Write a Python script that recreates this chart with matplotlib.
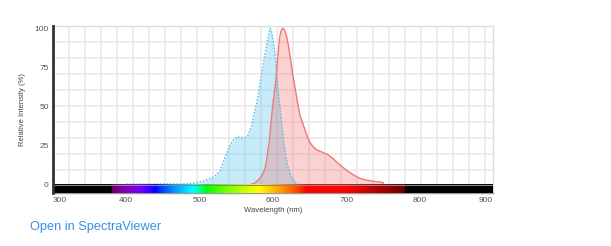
import numpy as np
import matplotlib
matplotlib.use("Agg")
import matplotlib.pyplot as plt

plt.rcParams['font.family'] = ['Liberation Sans', 'DejaVu Sans']

# Excitation spectrum (blue, dotted)
ex_wl = [400, 450, 480, 490, 500, 510, 520, 528, 535, 541, 546, 551, 556, 562, 566, 571,
         575, 579, 582, 586, 590, 594, 596, 598, 601, 604, 606, 609, 612, 616, 620, 624,
         628, 632, 635]
ex_val = [0.2, 0.3, 0.3, 0.6, 1.5, 3, 5, 9, 18, 25, 28.5, 30.5, 30, 30.2, 31.5, 38,
          47, 55, 64, 75, 86, 96, 100, 98, 90, 78, 64, 52, 38, 22, 12, 6,
          2.5, 0.5, 0]

# Emission spectrum (red, solid)
em_wl = [570, 575, 580, 584, 587, 590, 592, 595, 598, 600.5, 603, 605, 607, 609, 611, 613,
         615, 618, 621, 624, 627, 630, 634, 637, 641, 645, 650, 655, 660, 668, 675, 682, 690,
         700, 710, 718, 725, 732, 740, 750, 750.01]
em_val = [0, 0.8, 2.8, 5, 7.5, 12, 18, 28, 43, 54, 63, 72, 84, 94, 98.5, 100,
          99.5, 96, 89, 80, 70, 62, 51, 44, 38.5, 33, 27, 24, 22, 20.5, 19, 16.5, 13,
          9.2, 6, 4, 3, 2.4, 1.8, 1.3, 0]

x_ticks = [300, 400, 500, 600, 700, 800, 900]
y_ticks = [0, 25, 50, 75, 100]

W, H = 611, 246
fig = plt.figure(figsize=(W / 100, H / 100), dpi=100)
ax_l, ax_r, ax_t, ax_b = 53, 493, 26, 193
ax = fig.add_axes([ax_l / W, 1 - ax_b / H, (ax_r - ax_l) / W, (ax_b - ax_t) / H])
xmin, xmax = 300, 900
ymin, ymax = -5.5, 101.5
ax.set_xlim(xmin, xmax)
ax.set_ylim(ymin, ymax)

# grid every 16 px
gx = xmin + np.arange(1, 28) * 16 * (xmax - xmin) / (ax_r - ax_l)
gy_px = np.arange(ax_t + 16, ax_b, 16)
gy = ymin + (ax_b - gy_px) / (ax_b - ax_t) * (ymax - ymin)
for v in gx:
    ax.axvline(v, color='#e8e8e8', lw=1.1, zorder=0)
for v in gy:
    ax.axhline(v, color='#e8e8e8', lw=1.1, zorder=0)

# spectra
ax.fill_between(ex_wl, 0, ex_val, color=(72/255, 192/255, 238/255), alpha=0.3, lw=0, zorder=2)
ax.plot(ex_wl, ex_val, color='#5bbfe8', lw=1.0, ls=(0, (1.2, 1.2)), zorder=3)
ax.fill_between(em_wl, 0, em_val, color=(242/255, 105/255, 105/255), alpha=0.3, lw=0, zorder=2)
ax.plot(em_wl, em_val, color='#ee7a74', lw=1.0, zorder=3)

# wavelength color bar
def wl_rgb(w):
    if 380 <= w < 440:
        r, g, b = -(w - 440) / 60, 0, 1
    elif 440 <= w < 490:
        r, g, b = 0, (w - 440) / 50, 1
    elif 490 <= w < 510:
        r, g, b = 0, 1, -(w - 510) / 20
    elif 510 <= w < 580:
        r, g, b = (w - 510) / 70, 1, 0
    elif 580 <= w < 645:
        r, g, b = 1, -(w - 645) / 65, 0
    elif 645 <= w <= 780:
        r, g, b = 1, 0, 0
    else:
        return (0, 0, 0)
    if w < 420:
        f = 0.3 + 0.7 * (w - 380) / 40
    elif w > 700:
        f = 0.3 + 0.7 * (780 - w) / 80
    else:
        f = 1.0
    return tuple((c * f) ** 0.8 if c > 0 else 0 for c in (r, g, b))

wls = np.linspace(xmin, xmax, 1200)
img = np.array([[wl_rgb(w) for w in wls]])
ax.imshow(img, extent=[xmin, xmax, ymin, -0.3], aspect='auto', zorder=4, interpolation='bilinear')
ax.axhline(-0.3, color='#888888', lw=0.8, zorder=5)

for s in ['top', 'right']:
    ax.spines[s].set_color('#dddddd')
    ax.spines[s].set_linewidth(1.0)
ax.spines['bottom'].set_color('#999999')
ax.spines['bottom'].set_linewidth(1.0)
ax.spines['left'].set_color('#333333')
ax.spines['left'].set_linewidth(2.0)
ax.spines['left'].set_zorder(6)

ax.set_xticks(x_ticks)
ax.set_xticklabels([str(t) for t in x_ticks])
ax.set_yticks(y_ticks)
ax.set_yticklabels([str(t) for t in y_ticks])
ax.tick_params(axis='both', length=0, labelsize=6, colors='#555555')
ax.tick_params(axis='x', pad=3)
ax.tick_params(axis='y', pad=3)
lbls = ax.get_xticklabels()
lbls[0].set_ha('left')
lbls[-1].set_ha('right')

ax.set_xlabel('Wavelength (nm)', fontsize=5.5, color='#444444', labelpad=2)
ax.set_ylabel('Relative Intensity (%)', fontsize=5.5, color='#444444', labelpad=6)

fig.text(30 / W, 1 - 227 / H, 'Open in SpectraViewer', fontsize=9.2, color='#3a8ee0',
         ha='left', va='center')

fig.savefig('out.png', dpi=100)
